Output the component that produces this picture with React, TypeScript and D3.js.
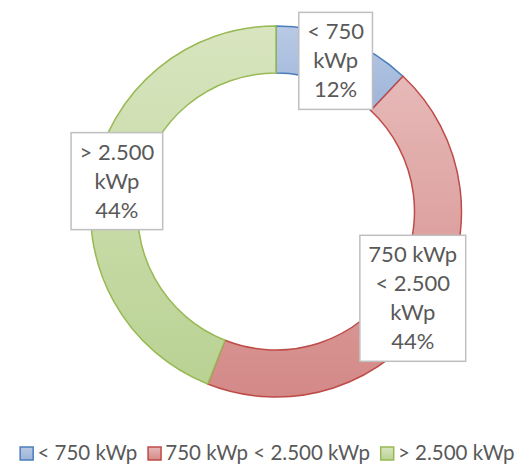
import React, { useEffect, useRef } from "react";
import * as d3 from "d3";

const categories = ["< 750 kWp", "750 kWp < 2.500 kWp", "> 2.500 kWp"];
const shares = [12, 44, 44];
const labelLines = [
  ["< 750", "kWp", "12%"],
  ["750 kWp", "< 2.500", "kWp", "44%"],
  ["> 2.500", "kWp", "44%"],
];
const strokeColors = ["#4a7ebb", "#be4b48", "#98b954"];
const gradTop = ["#b9c9e5", "#e6b9b8", "#d8e5bf"];
const gradBottom = ["#9db4d9", "#d38987", "#b9d293"];

const W = 532;
const H = 464;
const FONT = "Lato, 'Open Sans', sans-serif";

const App: React.FC = () => {
  const svgRef = useRef<SVGSVGElement | null>(null);

  useEffect(() => {
    document.body.style.margin = "0";
    if (!svgRef.current) return;
    const svg = d3.select(svgRef.current);
    svg.selectAll("*").remove();

    const cx = 276;
    const cy = 211.5;
    const outer = 185.5;
    const inner = 138.5;

    const data = categories.map((c, i) => ({ name: c, value: shares[i], i }));
    const pie = d3
      .pie<{ name: string; value: number; i: number }>()
      .sort(null)
      .value((d) => d.value);
    const arcs = pie(data);
    const arc = d3
      .arc<d3.PieArcDatum<{ name: string; value: number; i: number }>>()
      .innerRadius(inner)
      .outerRadius(outer);

    const defs = svg.append("defs");
    data.forEach((d) => {
      const g = defs
        .append("linearGradient")
        .attr("id", `grad${d.i}`)
        .attr("x1", "0%")
        .attr("x2", "0%")
        .attr("y1", "0%")
        .attr("y2", "100%");
      g.append("stop").attr("offset", "0%").attr("stop-color", gradTop[d.i]);
      g.append("stop").attr("offset", "100%").attr("stop-color", gradBottom[d.i]);
    });

    const g = svg.append("g").attr("transform", `translate(${cx},${cy})`);

    g.selectAll("path.slice")
      .data(arcs)
      .join("path")
      .attr("class", "slice")
      .attr("d", arc)
      .attr("fill", (d) => `url(#grad${d.data.i})`)
      .attr("stroke", (d) => strokeColors[d.data.i])
      .attr("stroke-width", 1.5);

    // data labels at arc centroids
    const lineH = 29;
    arcs.forEach((a) => {
      const [lx, ly] = arc.centroid(a);
      const lines = labelLines[a.data.i];
      const lg = g.append("g");
      const texts = lines.map((t) =>
        lg
          .append("text")
          .attr("text-anchor", "middle")
          .attr("font-family", FONT)
          .attr("font-size", 22)
          .attr("fill", "#595959")
          .text(t)
      );
      const maxW = d3.max(texts, (t) => (t.node() as SVGTextElement).getComputedTextLength()) || 0;
      const bw = maxW + 17;
      const bh = lines.length * lineH + 10;
      const top = ly - bh / 2;
      lg.insert("rect", "text")
        .attr("x", lx - bw / 2)
        .attr("y", top)
        .attr("width", bw)
        .attr("height", bh)
        .attr("fill", "#ffffff")
        .attr("stroke", "#bfbfbf")
        .attr("stroke-width", 1.5);
      texts.forEach((t, k) => t.attr("x", lx).attr("y", top + 27 + k * lineH));
    });

    // legend
    const leg = svg.append("g");
    const sq = 13;
    const gap = 10;
    let x = 0;
    categories.forEach((c, i) => {
      const item = leg.append("g").attr("transform", `translate(${x},0)`);
      item
        .append("rect")
        .attr("x", 0.75)
        .attr("y", -13)
        .attr("width", sq)
        .attr("height", sq)
        .attr("fill", `url(#grad${i})`)
        .attr("stroke", strokeColors[i])
        .attr("stroke-width", 1.5);
      const t = item
        .append("text")
        .attr("x", sq + 5)
        .attr("y", 0)
        .attr("font-family", FONT)
        .attr("font-size", 20.5)
        .attr("fill", "#595959")
        .text(c);
      const tw = (t.node() as SVGTextElement).getComputedTextLength();
      x += sq + 5 + tw + gap;
    });
    const total = x - gap;
    leg.attr("transform", `translate(${267 - total / 2},460)`);
  }, []);

  return <svg ref={svgRef} width={W} height={H} style={{ display: "block" }} />;
};

export default App;
